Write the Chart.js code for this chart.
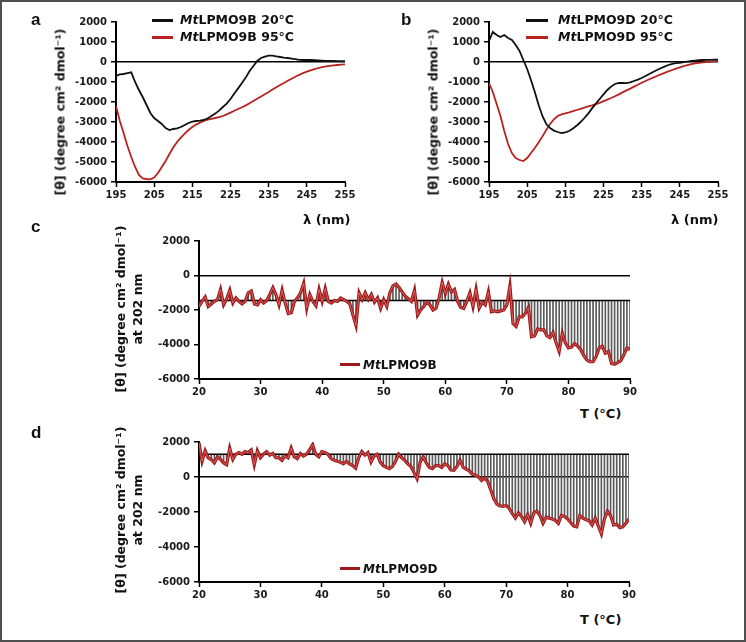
<!DOCTYPE html>
<html>
<head>
<meta charset="utf-8">
<script src="https://cdn.jsdelivr.net/npm/chart.js"></script>
<style>
  body { margin: 0; background: #fff; }
  #fig { position: relative; width: 746px; height: 642px; overflow: hidden; background: #fff;
         font-family: "DejaVu Sans", Verdana, sans-serif; font-weight: bold; color: #111; }
  #frame { position: absolute; left: 0; top: 0; width: 746px; height: 642px; box-sizing: border-box;
           border: 2px solid #505050; pointer-events: none; }
  canvas { position: absolute; }
  .t { position: absolute; white-space: nowrap; line-height: 1; }
  .letter { font-family: "Liberation Sans", Arial, sans-serif; font-size: 17px; }
  .rot { transform: translate(-50%, -50%) rotate(-90deg); text-align: center; font-size: 12.5px; line-height: 17px; }
  .key { position: absolute; height: 3px; }
</style>
</head>
<body>
<div id="fig">
  <canvas id="chartA" width="373" height="215" style="left:0;top:0"></canvas>
  <canvas id="chartB" width="373" height="215" style="left:373px;top:0"></canvas>
  <canvas id="chartC" width="746" height="175" style="left:0;top:225px"></canvas>
  <canvas id="chartD" width="746" height="175" style="left:0;top:425px"></canvas>

  <div class="t letter" style="left:31px;top:10.6px">a</div>
  <div class="t letter" style="left:401px;top:10.6px">b</div>
  <div class="t letter" style="left:31px;top:217.6px">c</div>
  <div class="t letter" style="left:31px;top:423.6px">d</div>

  <div class="t rot" style="left:60px;top:112px">[θ] (degree cm² dmol⁻¹)</div>
  <div class="t rot" style="left:433px;top:112px">[θ] (degree cm² dmol⁻¹)</div>
  <div class="t rot" style="left:128.5px;top:309px">[θ] (degree cm² dmol⁻¹)<br>at 202 nm</div>
  <div class="t rot" style="left:128.5px;top:510px">[θ] (degree cm² dmol⁻¹)<br>at 202 nm</div>

  <div class="t" style="left:303px;top:213px;font-size:13px">λ (nm)</div>
  <div class="t" style="left:671px;top:213px;font-size:13px">λ (nm)</div>
  <div class="t" style="left:580px;top:407px;font-size:13px">T (°C)</div>
  <div class="t" style="left:580px;top:613px;font-size:13px">T (°C)</div>

  <div id="legends"></div>
  <div id="frame"></div>
</div>

<script>
// wavelength axis (nm) and temperature axis (°C)
const wavelength = Array.from({length: 61}, (_, i) => 195 + i);
const temperature = Array.from({length: 141}, (_, i) => 20 + i * 0.5);

// panel a: MtLPMO9B far-UV CD spectra
const lpmo9b20 = [-700,-620,-600,-560,-520,
  -1000,-1400,-1750,-2150,-2550,-2800,-2950,-3100,-3300,-3400,
  -3350,-3320,-3250,-3150,-3050,-2980,-2950,-2930,-2900,-2820,
  -2700,-2580,-2430,-2250,-2080,-1850,-1580,-1320,-1050,-780,
  -450,-200,50,200,270,320,320,280,250,220,
  200,170,140,110,100,100,100,90,80,70,
  60,50,50,40,40,40];
const lpmo9b95 = [-2200,-2950,-3550,-4200,-4750,
  -5250,-5650,-5820,-5850,-5870,-5780,-5550,-5250,-4950,-4600,
  -4280,-4000,-3780,-3580,-3400,-3250,-3130,-3030,-2950,-2880,
  -2840,-2800,-2760,-2700,-2620,-2530,-2440,-2350,-2260,-2170,
  -2060,-1950,-1840,-1720,-1610,-1500,-1380,-1260,-1150,-1050,
  -940,-840,-740,-640,-560,-480,-420,-360,-300,-260,
  -220,-190,-170,-150,-130,-120];

// panel b: MtLPMO9D far-UV CD spectra
const lpmo9d20 = [1050,1500,1350,1250,1350,
  1200,1100,850,550,100,-350,-900,-1500,-2150,-2700,
  -3100,-3300,-3430,-3500,-3550,-3520,-3450,-3320,-3180,-3000,
  -2800,-2580,-2320,-2080,-1850,-1620,-1400,-1230,-1100,-1050,
  -1040,-1060,-1020,-950,-880,-800,-700,-600,-500,-400,
  -310,-230,-150,-90,-60,-40,-10,20,50,70,
  90,100,110,110,120,120];
const lpmo9d95 = [-1050,-1500,-2100,-2700,-3450,
  -4100,-4550,-4800,-4900,-4950,-4800,-4550,-4300,-4020,-3720,
  -3400,-3100,-2870,-2700,-2620,-2570,-2520,-2460,-2400,-2340,
  -2280,-2220,-2170,-2110,-2040,-1960,-1880,-1800,-1710,-1620,
  -1520,-1420,-1330,-1230,-1140,-1040,-950,-860,-780,-700,
  -620,-540,-470,-400,-330,-270,-210,-150,-110,-70,
  -40,-20,0,20,40,50];

// panels c, d: thermal unfolding at 202 nm
const melt9b = [-1800,-1500,-1250,-1800,-1650,-1500,-1400,-800,-1700,-1350,
  -850,-1600,-1300,-1500,-1650,-1500,-1000,-900,-1650,-1700,
  -1400,-1600,-1450,-1100,-700,-1100,-1700,-850,-1600,-2200,
  -2150,-1500,-1300,-1000,-450,-1900,-1100,-1500,-1750,-800,
  -1500,-750,-1500,-1600,-1450,-1500,-1300,-1400,-1500,-1650,
  -2300,-2900,-1000,-1400,-1000,-1400,-1100,-1550,-1300,-1900,
  -1400,-1800,-1000,-600,-500,-700,-950,-1200,-1350,-1500,
  -850,-2300,-2000,-1800,-1550,-1700,-2000,-1900,-1300,-400,
  -1050,-500,-950,-800,-1500,-1850,-1900,-1500,-1000,-1800,
  -800,-1900,-1550,-1700,-950,-2100,-2050,-2100,-2050,-2000,
  -1700,-600,-2800,-2950,-2400,-2400,-2200,-1850,-3550,-3500,
  -3100,-3150,-3150,-3500,-3600,-3300,-3900,-4400,-3350,-3900,
  -4200,-4150,-3950,-4100,-4300,-4650,-4900,-5000,-5000,-4700,
  -4200,-4100,-4500,-4400,-5100,-5150,-5050,-4950,-4600,-4200,
  -4300];
const melt9d = [1950,900,1500,1100,1000,800,1150,1000,800,700,
  1650,1000,1300,1400,1300,1450,1400,1550,700,1500,
  1100,1300,1450,1250,1350,1100,1100,950,1200,1100,
  1650,1150,1050,1350,1200,1300,1550,1850,1300,1150,
  1450,1400,1300,1050,950,900,850,750,900,750,
  650,500,1100,1450,1250,1400,850,1200,1300,850,
  650,550,480,600,900,1300,1100,950,750,600,
  250,-100,850,1150,800,550,480,650,650,550,
  750,650,400,380,600,950,550,450,350,150,
  100,0,-200,-50,-250,-750,-1250,-1550,-1650,-1680,
  -1620,-1800,-2100,-2350,-2050,-2250,-2550,-2150,-2650,-2050,
  -1950,-2200,-2650,-2300,-2350,-2400,-2480,-2650,-2200,-2250,
  -2400,-2600,-2800,-2850,-2200,-2350,-2450,-2500,-2750,-2350,
  -2800,-3250,-2400,-1950,-2200,-2750,-2700,-2900,-2850,-2650,
  -2400];
const mean9b = -1450;
const mean9d = 1300;

const labelsA = ['MtLPMO9B 20°C', 'MtLPMO9B 95°C'];
const labelsB = ['MtLPMO9D 20°C', 'MtLPMO9D 95°C'];
const labelC = 'MtLPMO9B';
const labelD = 'MtLPMO9D';

const black = '#111111';
const red = '#b8231f';
const darkRed = '#9c1a1a';

const tickFont = {family: 'DejaVu Sans', size: 10, weight: 'bold'};

function scales(xMin, xMax, xStep, yStep, yWidth, xHeight) {
    return {
        x: {
            type: 'linear', min: xMin, max: xMax, offset: false,
            ticks: {stepSize: xStep, font: tickFont, color: '#1a1a1a', padding: 2, maxRotation: 0, autoSkip: false,
                    callback: v => String(v)},
            grid: {drawOnChartArea: false, offset: false, tickLength: 5, tickColor: '#000', tickWidth: 1.5},
            border: {color: '#000', width: 2},
            afterFit: s => { s.height = xHeight; }
        },
        y: {
            type: 'linear', min: -6000, max: 2000,
            ticks: {stepSize: yStep, font: tickFont, color: '#1a1a1a', padding: 4, autoSkip: false,
                    callback: v => String(v)},
            grid: {
                color: c => (c.tick && c.tick.value === 0) ? '#000' : 'rgba(0,0,0,0)',
                lineWidth: 1.5, tickLength: 5, tickColor: '#000', tickWidth: 1.5
            },
            border: {color: '#000', width: 2},
            afterFit: s => { s.width = yWidth; }
        }
    };
}

function points(xs, ys) {
    return xs.map((x, i) => ({x: x, y: ys[i]}));
}

function spectrum(id, s20, s95, labels) {
    new Chart(document.getElementById(id), {
        type: 'line',
        data: {
            datasets: [
                {label: labels[0], data: points(wavelength, s20), borderColor: black, borderWidth: 1.8, pointRadius: 0, tension: 0},
                {label: labels[1], data: points(wavelength, s95), borderColor: red, borderWidth: 1.8, pointRadius: 0, tension: 0}
            ]
        },
        options: {
            responsive: false, animation: false, events: [],
            layout: {padding: {left: 0, top: 22, right: 28, bottom: 0}},
            plugins: {legend: {display: false}, tooltip: {enabled: false}},
            scales: scales(195, 255, 10, 1000, 116, 33)
        }
    });
}

function melting(id, vals, base, label, top, right, xHeight) {
    const drops = temperature.map((t, i) => ({x: t, y: [base, vals[i]]}));
    const curve = points(temperature, vals);
    const baseline = [{x: temperature[0], y: base}, {x: temperature[temperature.length - 1], y: base}];
    new Chart(document.getElementById(id), {
        type: 'line',
        data: {
            datasets: [
                {type: 'bar', data: drops, backgroundColor: '#5a5a5a', barThickness: 1, grouped: false, order: 4},
                {type: 'line', data: baseline, borderColor: '#000', borderWidth: 1.5, pointRadius: 0, order: 3},
                {type: 'line', label: label, data: curve, borderColor: darkRed, borderWidth: 3.2, pointRadius: 0, tension: 0, order: 2},
                {type: 'line', data: curve, borderColor: 'rgba(232,105,105,0.85)', borderWidth: 1, pointRadius: 0, tension: 0, order: 1}
            ]
        },
        options: {
            responsive: false, animation: false, events: [],
            layout: {padding: {left: 0, top: top, right: right, bottom: 0}},
            plugins: {legend: {display: false}, tooltip: {enabled: false}},
            scales: scales(20, 90, 10, 2000, 199, xHeight)
        }
    });
}

spectrum('chartA', lpmo9b20, lpmo9b95, labelsA);
spectrum('chartB', lpmo9d20, lpmo9d95, labelsB);
melting('chartC', melt9b, mean9b, labelC, 16, 116, 21);
melting('chartD', melt9d, mean9d, labelD, 17, 117, 18);

// legends (species prefix in italics)
const legendBox = document.getElementById('legends');
function key(text, color, lineLeft, lineWidth, lineY, textLeft, textTop, size) {
    const line = document.createElement('div');
    line.className = 'key';
    line.style.cssText = 'left:' + lineLeft + 'px;top:' + (lineY - 1.5) + 'px;width:' + lineWidth + 'px;background:' + color;
    legendBox.appendChild(line);
    const t = document.createElement('div');
    t.className = 't';
    t.style.cssText = 'left:' + textLeft + 'px;top:' + textTop + 'px;font-size:' + size + 'px';
    t.innerHTML = '<i>' + text.slice(0, 2) + '</i>' + text.slice(2);
    legendBox.appendChild(t);
}
key(labelsA[0], black, 152, 21, 20, 180, 14.4, 12.5);
key(labelsA[1], red, 152, 21, 37.7, 180, 31.1, 12.5);
key(labelsB[0], black, 526, 22, 20, 558, 14.4, 12.5);
key(labelsB[1], red, 526, 22, 37.7, 558, 31.1, 12.5);
key(labelC, darkRed, 340, 20, 364.5, 363, 358.8, 12);
key(labelD, darkRed, 340, 20, 568.3, 363, 562.5, 12);
</script>
</body>
</html>
